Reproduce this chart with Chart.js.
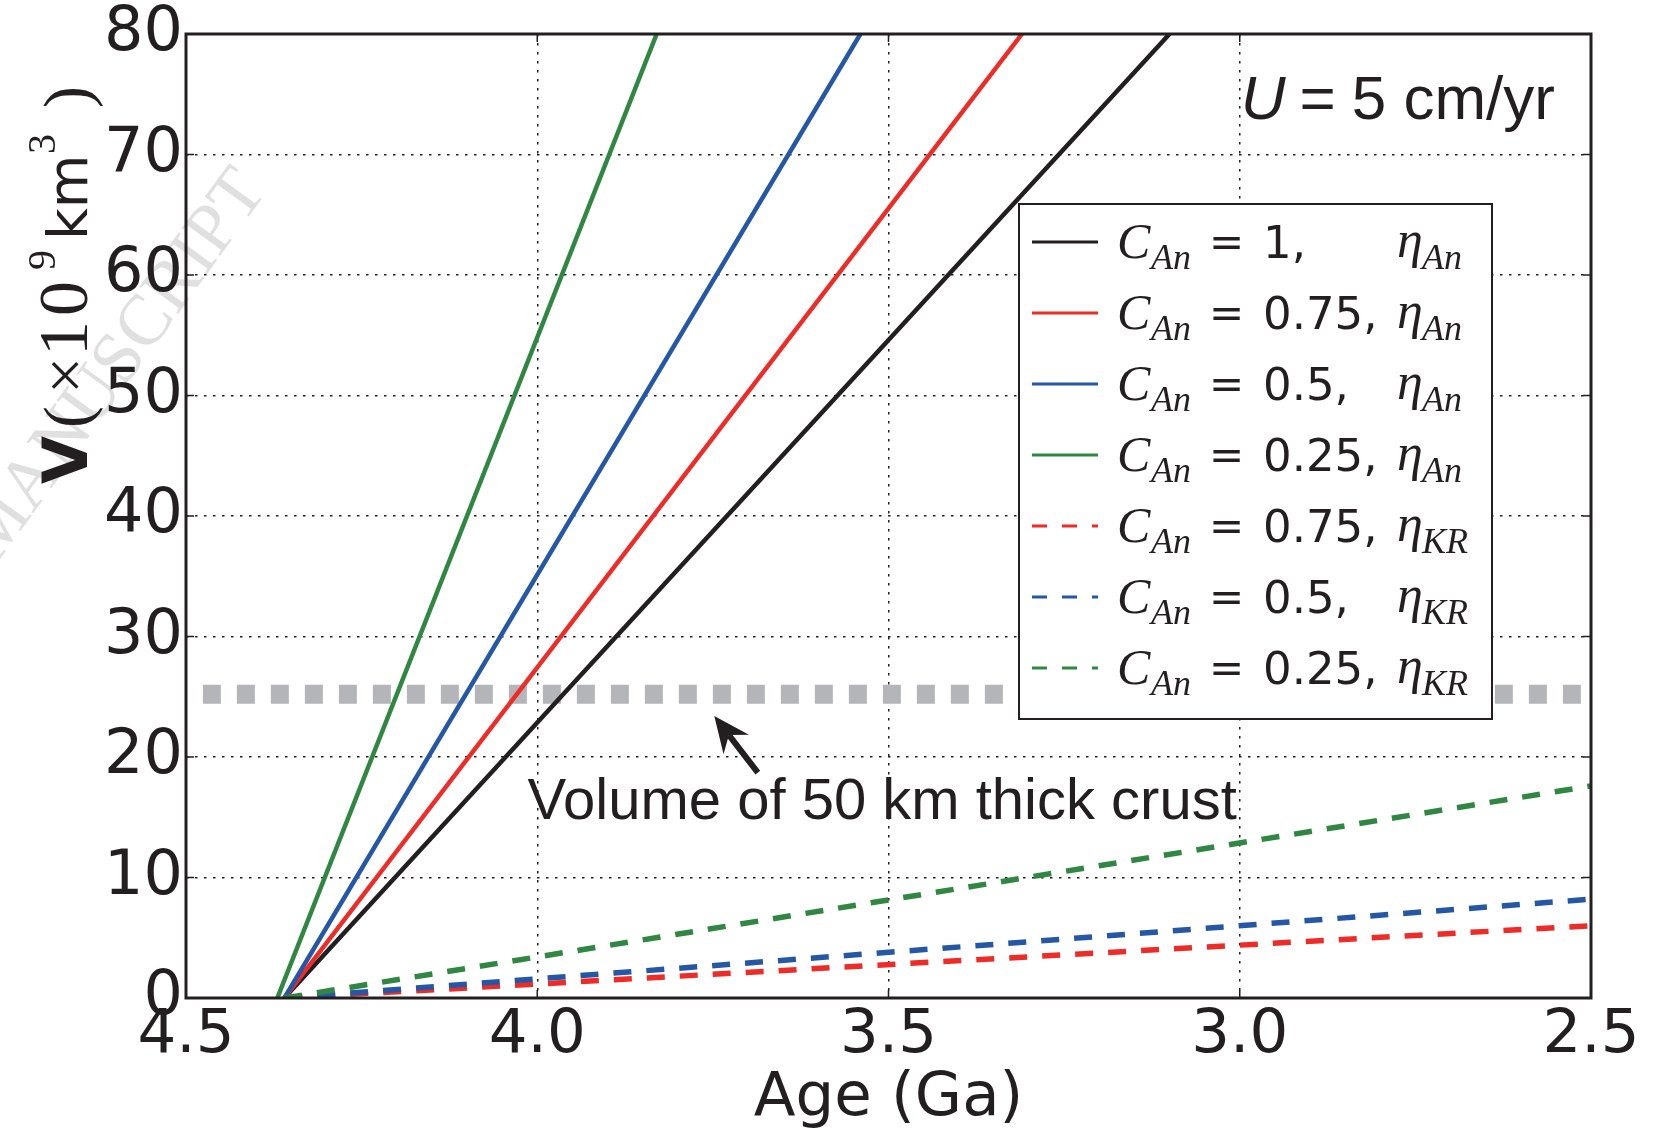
<!DOCTYPE html>
<html>
<head>
<meta charset="utf-8">
<script src="https://cdn.jsdelivr.net/npm/chart.js@4.4.1/dist/chart.umd.min.js"></script>
<style>
  html, body { margin: 0; padding: 0; background: #fff; }
  canvas { display: block; }
</style>
</head>
<body>
<canvas id="chart" width="1655" height="1130"></canvas>
<script>
// valores
const cValues = ['1', '0.75', '0.5', '0.25', '0.75', '0.5', '0.25'];
const etaSub = ['An', 'An', 'An', 'An', 'KR', 'KR', 'KR'];
const lineColors = ['#231f20', '#ee2b27', '#2557a7', '#2f8742', '#ee2b27', '#2557a7', '#2f8742'];
const isDashed = [false, false, false, false, true, true, true];
const startAge = [4.36, 4.36, 4.36, 4.37, 4.36, 4.36, 4.36];
const startV = [0, 0, 0, 0, 0, 0, 0];
const endAge = [3.10, 3.31, 3.54, 3.83, 2.5, 2.5, 2.5];
const endV = [80, 80, 80, 80, 6.0, 8.2, 17.6];

// linea gris: volumen de corteza de 50 km
const crustAge = [4.476, 2.5];
const crustV = [25.2, 25.2];

const xTicks = [4.5, 4.0, 3.5, 3.0, 2.5];
const yTicks = [0, 10, 20, 30, 40, 50, 60, 70, 80];

const INK = '#231f20';

const datasets = cValues.map((c, i) => ({
  label: 'C_An = ' + c + ', eta_' + etaSub[i],
  data: [{ x: startAge[i], y: startV[i] }, { x: endAge[i], y: endV[i] }],
  borderColor: lineColors[i],
  borderWidth: isDashed[i] ? 5.5 : 4.5,
  borderDash: isDashed[i] ? [18, 15] : [],
  borderCapStyle: 'butt',
  pointRadius: 0,
  tension: 0,
  fill: false,
  order: 10 - i
}));

datasets.push({
  label: 'crust',
  data: crustAge.map((a, i) => ({ x: a, y: crustV[i] })),
  borderColor: '#b4b5b8',
  borderWidth: 19,
  borderDash: [18, 16],
  borderCapStyle: 'butt',
  pointRadius: 0,
  fill: false,
  order: 50
});

// texto con partes de distinto tipo
function drawParts(ctx, parts, x, y) {
  parts.forEach(p => {
    ctx.font = p.font;
    ctx.fillText(p.t, x, y + (p.dy || 0));
    x += ctx.measureText(p.t).width + (p.gap || 0);
  });
}

const decor = {
  id: 'decor',
  beforeDraw(chart) {
    const ctx = chart.ctx;
    ctx.save();
    ctx.fillStyle = '#fff';
    ctx.fillRect(0, 0, chart.width, chart.height);
    // marca de agua
    ctx.translate(268, 190);
    ctx.rotate(-54 * Math.PI / 180);
    ctx.font = '72px "Liberation Serif"';
    ctx.fillStyle = '#e0e0e0';
    ctx.textAlign = 'right';
    ctx.textBaseline = 'alphabetic';
    ctx.fillText('ACCEPTED MANUSCRIPT', 0, 0);
    ctx.restore();
  },
  afterDatasetsDraw(chart) {
    const { ctx, chartArea: a, scales: { x, y } } = chart;
    ctx.save();

    // marco y marcas hacia dentro
    ctx.strokeStyle = INK;
    ctx.lineWidth = 1.5;
    ctx.beginPath();
    xTicks.forEach(t => {
      const px = x.getPixelForValue(t);
      ctx.moveTo(px, a.bottom); ctx.lineTo(px, a.bottom - 8);
      ctx.moveTo(px, a.top); ctx.lineTo(px, a.top + 8);
    });
    yTicks.forEach(t => {
      const py = y.getPixelForValue(t);
      ctx.moveTo(a.left, py); ctx.lineTo(a.left + 8, py);
      ctx.moveTo(a.right, py); ctx.lineTo(a.right - 8, py);
    });
    ctx.stroke();
    ctx.lineWidth = 3;
    ctx.strokeRect(a.left, a.top, a.right - a.left, a.bottom - a.top);

    // flecha
    const tx = x.getPixelForValue(3.686), ty = y.getPixelForValue(18.7);
    const hx = x.getPixelForValue(3.748), hy = y.getPixelForValue(23.4);
    const ang = Math.atan2(hy - ty, hx - tx);
    const L = 36, W = 16, N = 24;
    const bx = hx - L * Math.cos(ang), by = hy - L * Math.sin(ang);
    const nx = -Math.sin(ang), ny = Math.cos(ang);
    ctx.lineWidth = 6;
    ctx.beginPath();
    ctx.moveTo(tx, ty);
    ctx.lineTo(hx - N * Math.cos(ang), hy - N * Math.sin(ang));
    ctx.stroke();
    ctx.fillStyle = INK;
    ctx.beginPath();
    ctx.moveTo(hx, hy);
    ctx.lineTo(bx + W * nx, by + W * ny);
    ctx.lineTo(hx - N * Math.cos(ang), hy - N * Math.sin(ang));
    ctx.lineTo(bx - W * nx, by - W * ny);
    ctx.closePath();
    ctx.fill();

    // textos
    ctx.fillStyle = INK;
    ctx.textBaseline = 'middle';
    ctx.textAlign = 'center';
    ctx.font = '58px "Liberation Sans"';
    ctx.fillText('Volume of 50 km thick crust', x.getPixelForValue(3.509), y.getPixelForValue(16.2));

    ctx.textAlign = 'left';
    const uParts = [
      { t: 'U', font: 'italic 62px "Liberation Sans"', gap: 14 },
      { t: '=', font: '62px "Liberation Sans"', gap: 16 },
      { t: '5 cm/yr', font: '62px "Liberation Sans"' }
    ];
    let uw = 0;
    uParts.forEach(p => { ctx.font = p.font; uw += ctx.measureText(p.t).width + (p.gap || 0); });
    drawParts(ctx, uParts, x.getPixelForValue(2.775) - uw / 2, y.getPixelForValue(74.4));

    // leyenda
    const lx = 1019, ly = 204, lw = 473, lh = 515;
    ctx.fillStyle = '#fff';
    ctx.fillRect(lx, ly, lw, lh);
    ctx.strokeStyle = INK;
    ctx.lineWidth = 2;
    ctx.strokeRect(lx, ly, lw, lh);
    ctx.textBaseline = 'alphabetic';
    cValues.forEach((c, i) => {
      const cy = 242 + i * 71;
      ctx.strokeStyle = lineColors[i];
      ctx.lineWidth = 3;
      ctx.setLineDash(isDashed[i] ? [15, 15] : []);
      ctx.beginPath();
      ctx.moveTo(1032, cy);
      ctx.lineTo(1098, cy);
      ctx.stroke();
      ctx.setLineDash([]);
      ctx.fillStyle = INK;
      ctx.font = 'italic 50px "Liberation Serif"';
      ctx.fillText('C', 1117, cy + 16);
      ctx.font = 'italic 36px "Liberation Serif"';
      ctx.fillText('An', 1151, cy + 27);
      ctx.font = '42px "DejaVu Sans"';
      ctx.fillText('=', 1209, cy + 14);
      ctx.font = '45px "DejaVu Sans"';
      ctx.fillText(c + ',', 1263, cy + 16);
      ctx.font = 'italic 52px "Liberation Serif"';
      ctx.fillText('\u03b7', 1397, cy + 15);
      ctx.font = 'italic 36px "Liberation Serif"';
      ctx.fillText(etaSub[i], 1422, cy + 27);
    });
    ctx.restore();
  },
  afterDraw(chart) {
    // titulo del eje y
    const ctx = chart.ctx;
    ctx.save();
    ctx.translate(87, 0);
    ctx.rotate(-Math.PI / 2);
    ctx.fillStyle = INK;
    ctx.textBaseline = 'alphabetic';
    ctx.textAlign = 'left';
    ctx.font = 'bold 62px "DejaVu Sans"';
    ctx.fillText('V', -484, 0);
    ctx.font = '66px "Liberation Serif"';
    ctx.fillText('(', -428, 2);
    ctx.fillText('\u00d7', -394, 0);
    ctx.font = '70px "Liberation Serif"';
    ctx.fillText('1', -356, 0);
    ctx.fillText('0', -316, 0);
    ctx.font = '40px "Liberation Serif"';
    ctx.fillText('9', -270, -32);
    ctx.font = '55px "DejaVu Sans"';
    ctx.fillText('km', -240, 0);
    ctx.font = '40px "Liberation Serif"';
    ctx.fillText('3', -154, -32);
    ctx.font = '66px "Liberation Serif"';
    ctx.fillText(')', -108, 2);
    ctx.restore();
  }
};

new Chart(document.getElementById('chart'), {
  type: 'line',
  data: { datasets },
  plugins: [decor],
  options: {
    responsive: false,
    devicePixelRatio: 1,
    animation: false,
    layout: { padding: { left: 0, top: 32, right: 64, bottom: 0 } },
    plugins: { legend: { display: false }, tooltip: { enabled: false } },
    scales: {
      x: {
        type: 'linear',
        reverse: true,
        min: 2.5,
        max: 4.5,
        afterFit: s => { s.height = 132; },
        afterBuildTicks: s => { s.ticks = xTicks.map(v => ({ value: v })); },
        ticks: {
          callback: v => Number(v).toFixed(1),
          color: INK,
          padding: 2,
          maxRotation: 0,
          autoSkip: false,
          font: { family: 'DejaVu Sans', size: 61, lineHeight: 1.2 }
        },
        grid: { color: INK, lineWidth: 1.5, drawTicks: false },
        border: { display: false, dash: [2.5, 6.5] },
        title: {
          display: true,
          text: 'Age (Ga)',
          color: INK,
          padding: 0,
          font: { family: 'DejaVu Sans', size: 61, lineHeight: 1 }
        }
      },
      y: {
        min: 0,
        max: 80,
        afterFit: s => { s.width = 186; },
        afterBuildTicks: s => { s.ticks = yTicks.map(v => ({ value: v })); },
        ticks: {
          color: INK,
          padding: 3,
          autoSkip: false,
          font: { family: 'DejaVu Sans', size: 62, lineHeight: 1 }
        },
        grid: { color: INK, lineWidth: 1.5, drawTicks: false },
        border: { display: false, dash: [2.5, 6.5] }
      }
    }
  }
});
</script>
</body>
</html>
